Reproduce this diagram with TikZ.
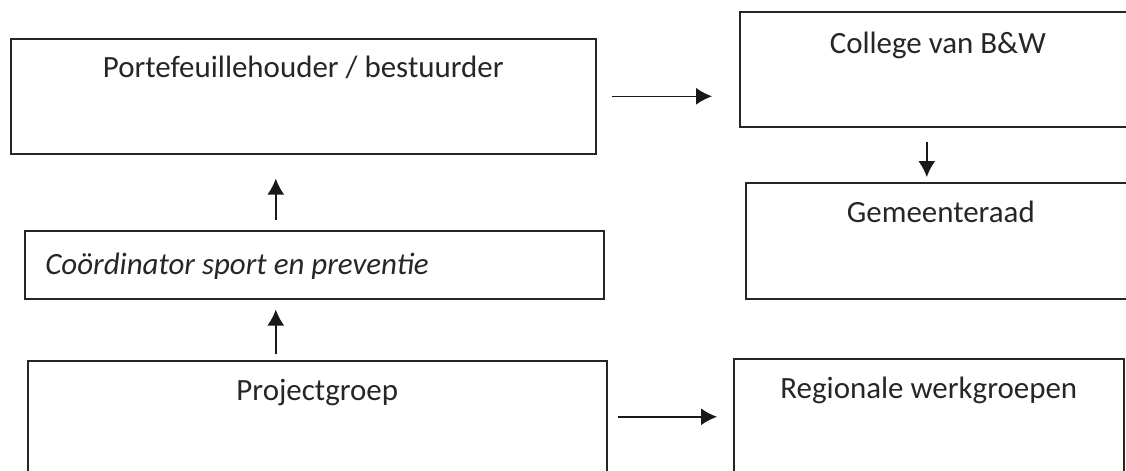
\documentclass[tikz,border=0pt]{standalone}
\usepackage{fontspec}
\setmainfont{Carlito}
\usetikzlibrary{positioning,arrows.meta}

\begin{document}
\begin{tikzpicture}[
      orgbox/.style={draw=black!85, line width=0.9pt, anchor=north west, inner sep=0pt},
      boxtext/.style={font=\fontsize{17.6}{21}\selectfont, text=black!85, inner sep=0pt, anchor=base},
      flow/.style={-{Latex[length=0.32cm, width=0.34cm]}, line width=0.9pt, black!90}
    ]
    \useasboundingbox (0,0) rectangle (22.52,-9.4);

    % the boxes
    \node[orgbox, minimum width=11.7cm, minimum height=2.3cm] (pfh) at (0.2,-0.76) {};
    \node[orgbox, minimum width=7.92cm, minimum height=2.3cm] (college) at (14.78,-0.22) {};
    \node[orgbox, minimum width=7.8cm, minimum height=2.32cm] (raad) at (14.9,-3.64) {};
    \node[orgbox, minimum width=11.58cm, minimum height=1.36cm] (coord) at (0.48,-4.6) {};
    \node[orgbox, minimum width=11.58cm, minimum height=2.24cm] (proj) at (0.54,-7.2) {};
    \node[orgbox, minimum width=7.8cm, minimum height=2.32cm] (regio) at (14.66,-7.16) {};

    % the texts
    \node[boxtext] (pfhtxt) at ([yshift=-0.78cm]pfh.north) {Portefeuillehouder / bestuurder};
    \node[boxtext] (collegetxt) at ([yshift=-0.84cm]college.north) {College van B\&W};
    \node[boxtext] (raadtxt) at ([yshift=-0.8cm]raad.north) {Gemeenteraad};
    \node[boxtext, anchor=base west] (coordtxt) at ([xshift=0.42cm, yshift=-0.88cm]coord.north west) {\itshape Coördinator sport en preventie};
    \node[boxtext] (projtxt) at ([yshift=-0.8cm]proj.north) {Projectgroep};
    \node[boxtext] (regiotxt) at ([yshift=-0.8cm]regio.north) {Regionale werkgroepen};

    % the arrows
    \draw[flow, shorten <=0.3cm, shorten >=0.54cm] (pfh.east) -- (pfh.east -| college.west);
    \draw[flow, shorten <=0.28cm, shorten >=0.1cm] ([xshift=-0.22cm]college.south) -- ([xshift=-0.22cm]college.south |- raad.north);
    \draw[flow, shorten <=0.2cm, shorten >=0.48cm] ([xshift=-0.55cm]pfh.south |- coord.north) -- ([xshift=-0.55cm]pfh.south);
    \draw[flow, shorten <=0.12cm, shorten >=0.2cm] ([xshift=-0.77cm]coord.south |- proj.north) -- ([xshift=-0.77cm]coord.south);
    \draw[flow, shorten <=0.2cm, shorten >=0.32cm] (proj.east) -- (proj.east -| regio.west);
  \end{tikzpicture}
\end{document}
